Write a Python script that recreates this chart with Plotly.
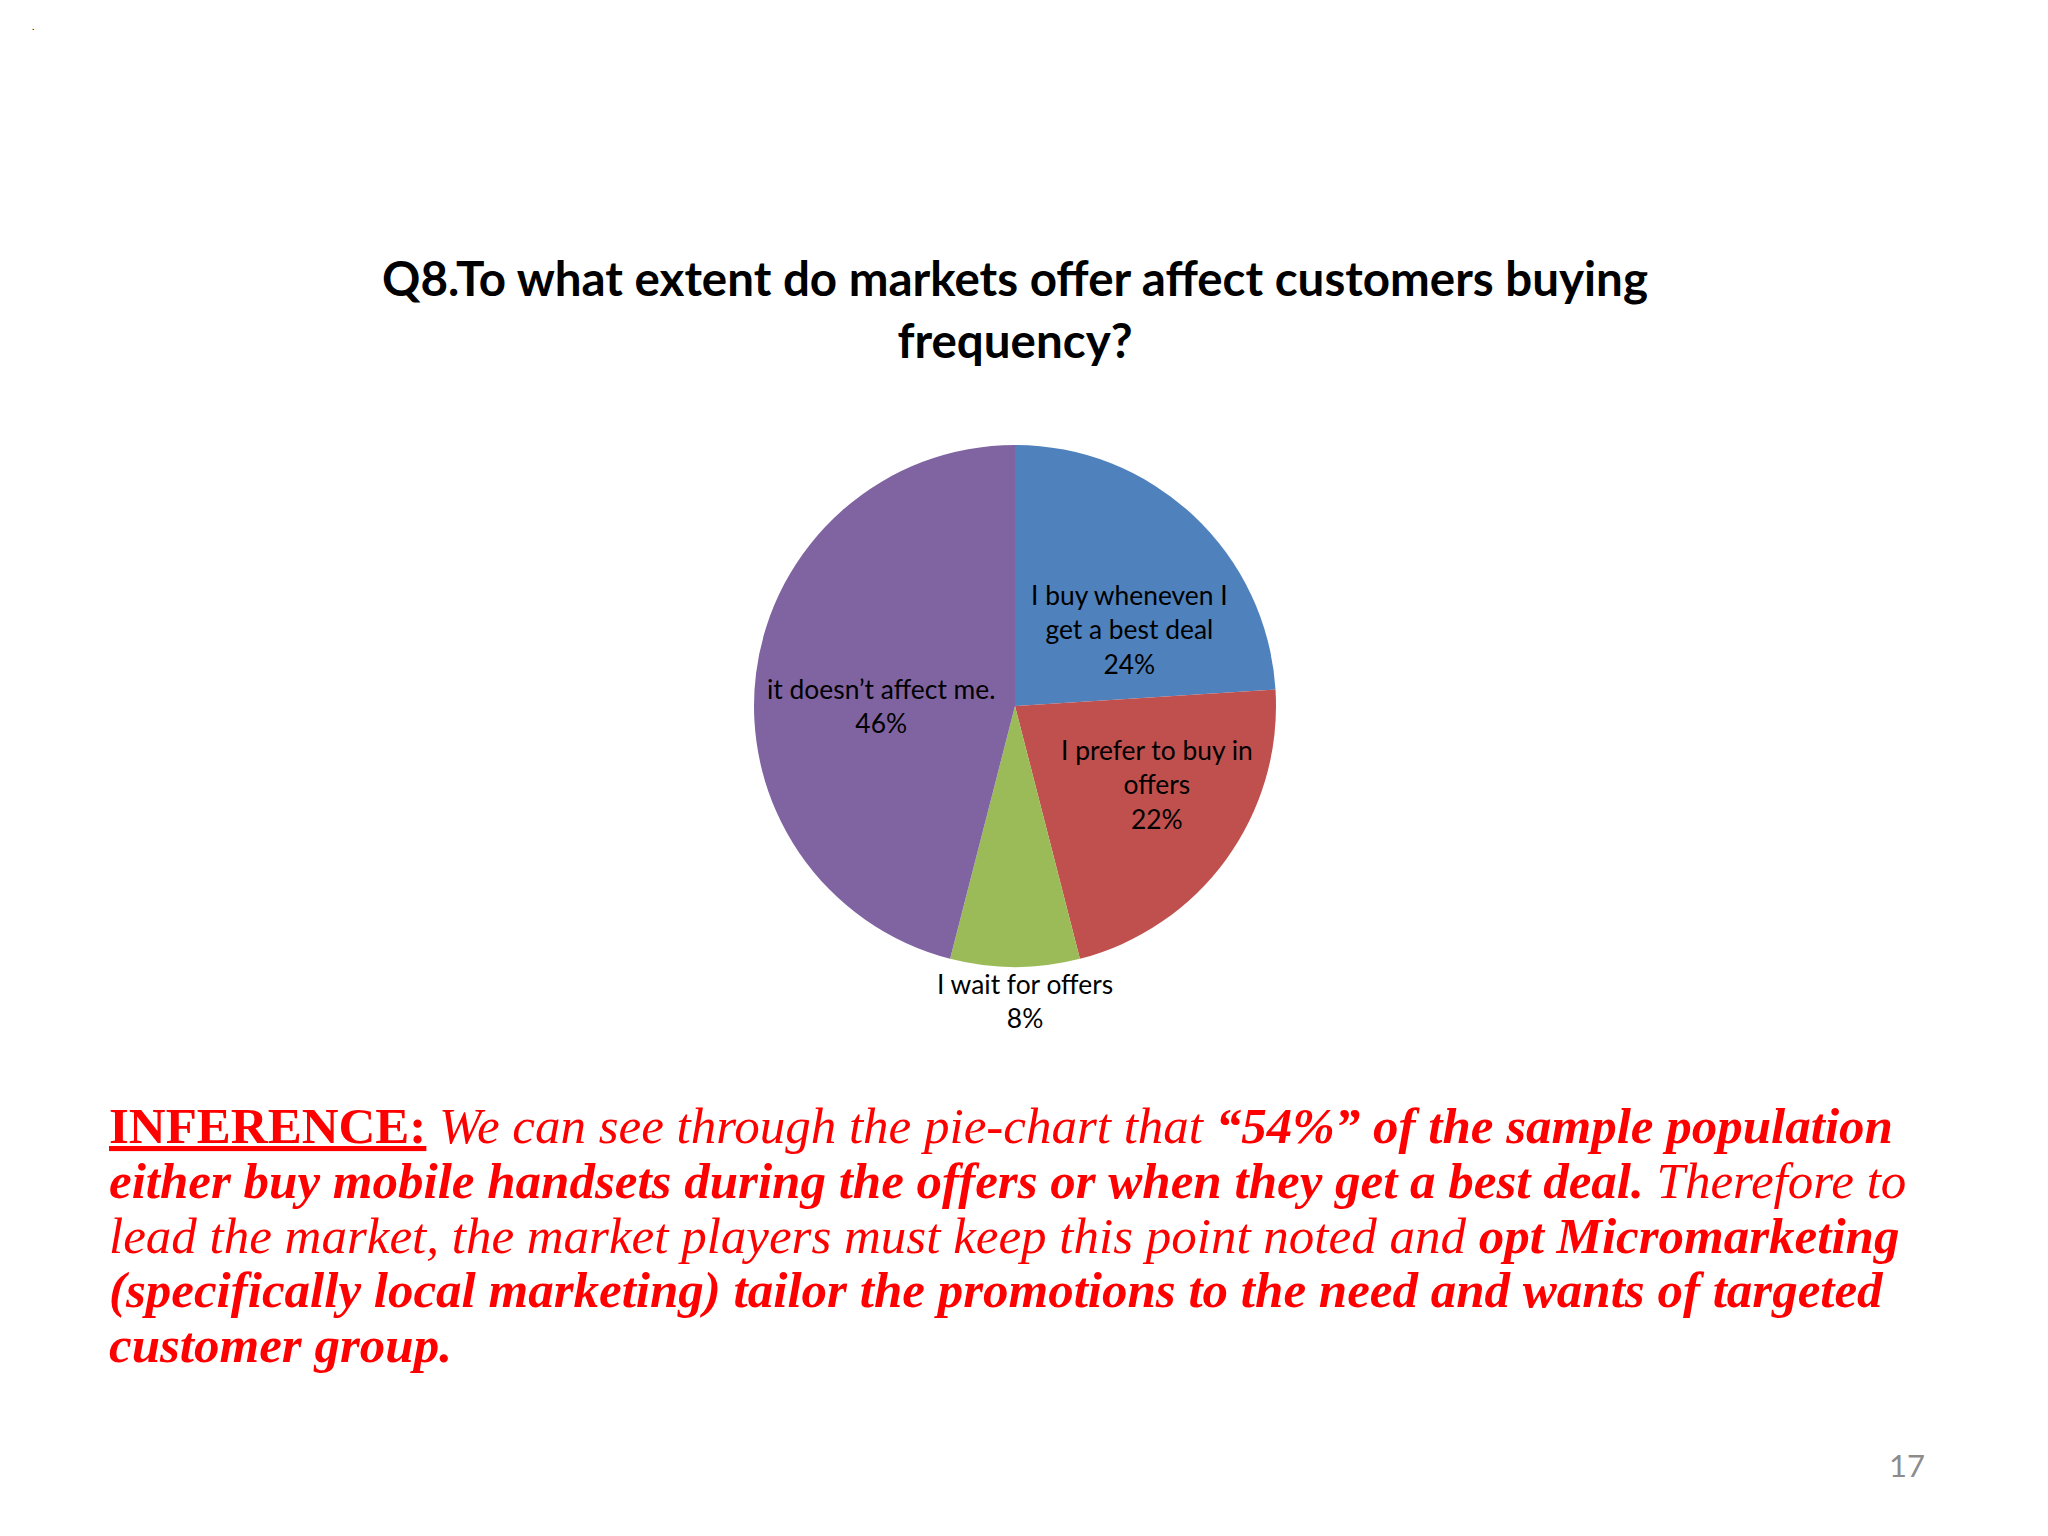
import math
import plotly.graph_objects as go

# ---- data ----
categories = ["I buy wheneven I<br>get a best deal", "I prefer to buy in<br>offers", "I wait for offers", "it doesn’t affect me."]
values = [24, 22, 8, 46]
colors = ["#4F81BD", "#C0504D", "#9BBB59", "#8064A2"]
title_text = "Q8.To what extent do markets offer affect customers buying<br>frequency?"
inference_lines = [
    "<span style='text-decoration:underline'><b>INFERENCE:</b></span> <i>We can see through the pie-chart that </i><b><i>“54%” of the sample population</i></b>",
    "<b><i>either buy mobile handsets during the offers or when they get a best deal.</i></b><i> Therefore to</i>",
    "<i>lead the market, the market players must keep this point noted and </i><b><i>opt Micromarketing</i></b>",
    "<b><i>(specifically local marketing) tailor the promotions to the need and wants of targeted</i></b>",
    "<b><i>customer group.</i></b>",
]
page_number = "17"

# ---- layout constants ----
OFF = 8                      # browser default body margin
W, H = 2048 - 2 * OFF, 1536 - 2 * OFF
cx, cy, R = 1015, 706, 261   # page pixel coordinates


def px(x):
    return (x - OFF) / W


def py(y):
    return 1 - (y - OFF) / H


# label placement style: (angle nudge in degrees, radius fraction)
label_style = [(13, 0.53), (-7, 0.62), (-2, 1.13), (-7, 0.51)]

fig = go.Figure()
fig.add_trace(go.Pie(
    labels=[c.replace("<br>", " ") for c in categories],
    values=values,
    sort=False,
    direction="clockwise",
    rotation=0,
    marker=dict(colors=colors, line=dict(width=0)),
    textinfo="none",
    hoverinfo="label+percent",
    domain=dict(x=[px(cx - R), px(cx + R)], y=[py(cy + R), py(cy - R)]),
    showlegend=False,
))

annotations = []
total = sum(values)
cum = 0
for i, (cat, v) in enumerate(zip(categories, values)):
    mid = (cum + v / 2) / total * 360
    cum += v
    nudge, rf = label_style[i]
    a = math.radians(mid + nudge)
    lx = cx + rf * R * math.sin(a)
    ly = cy - rf * R * math.cos(a)
    pct = round(v / total * 100)
    annotations.append(dict(
        x=px(lx), y=py(ly), xref="paper", yref="paper",
        text=f"{cat}<br>{pct}%", showarrow=False,
        font=dict(family="Lato", size=26.4, color="#000000"),
        align="center", xanchor="center", yanchor="middle",
    ))

annotations.append(dict(
    x=px(1015), y=py(308), xref="paper", yref="paper",
    text=f"<b>{title_text}</b>", showarrow=False,
    font=dict(family="Lato", size=47.5, color="#000000"),
    align="center", xanchor="center", yanchor="middle",
))

line_y = [1126, 1181, 1236, 1290, 1345]
for t, ly in zip(inference_lines, line_y):
    annotations.append(dict(
        x=px(107), y=py(ly), xref="paper", yref="paper",
        text=t, showarrow=False,
        font=dict(family="Liberation Serif", size=51, color="#FF0000"),
        align="left", xanchor="left", yanchor="middle",
    ))

annotations.append(dict(
    x=px(1907), y=py(1465), xref="paper", yref="paper",
    text=page_number, showarrow=False,
    font=dict(family="Lato", size=31, color="#8C8C8C"),
    xanchor="center", yanchor="middle",
))
annotations.append(dict(
    x=px(33), y=py(26), xref="paper", yref="paper",
    text=".", showarrow=False,
    font=dict(family="Lato", size=10, color="#000000"),
    xanchor="center", yanchor="middle",
))

fig.update_layout(
    width=W, height=H,
    margin=dict(l=0, r=0, t=0, b=0),
    paper_bgcolor="#FFFFFF",
    plot_bgcolor="#FFFFFF",
    annotations=annotations,
)

fig.write_html("out.html")
